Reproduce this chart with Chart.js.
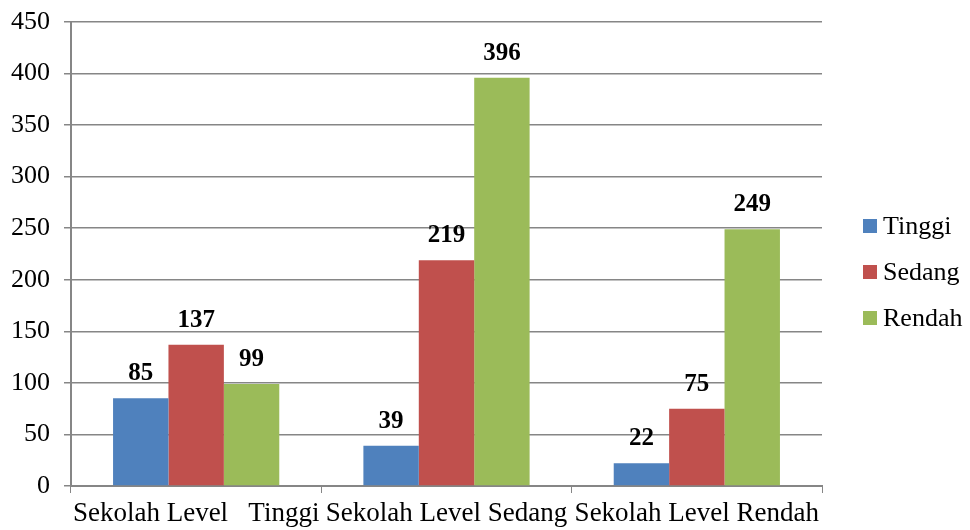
<!DOCTYPE html>
<html>
<head>
<meta charset="utf-8">
<script src="https://cdn.jsdelivr.net/npm/chart.js@4.4.1/dist/chart.umd.min.js"></script>
<style>
  html, body { margin: 0; padding: 0; background: #fff; }
  #wrap { width: 970px; height: 530px; }
</style>
</head>
<body>
<div id="wrap"><canvas id="chart" width="970" height="530"></canvas></div>
<script>
// Data
const categories = ['Sekolah Level   Tinggi', 'Sekolah Level Sedang', 'Sekolah Level Rendah'];
const tinggi = [85, 39, 22];
const sedang = [137, 219, 75];
const rendah = [99, 396, 249];

const FONT = "'Liberation Serif', 'Times New Roman', serif";
const GRID = '#868686';

// labels above bars
const valueLabels = {
  id: 'valueLabels',
  afterDatasetsDraw(chart) {
    const ctx = chart.ctx;
    ctx.save();
    ctx.font = 'bold 25px ' + FONT;
    ctx.fillStyle = '#000';
    ctx.textAlign = 'center';
    ctx.textBaseline = 'alphabetic';
    chart.data.datasets.forEach((ds, i) => {
      chart.getDatasetMeta(i).data.forEach((bar, j) => {
        ctx.fillText(ds.data[j], bar.x, bar.y - 18);
      });
    });
    ctx.restore();
  }
};

// legend on the right, small gap between box and text
const sideLegend = {
  id: 'sideLegend',
  afterDraw(chart) {
    const ctx = chart.ctx;
    const area = chart.chartArea;
    const n = chart.data.datasets.length;
    const step = 46;
    const midY = (area.top + area.bottom) / 2 + 18;
    const x = area.right + 41;
    ctx.save();
    ctx.font = '26px ' + FONT;
    ctx.textBaseline = 'middle';
    ctx.textAlign = 'left';
    chart.data.datasets.forEach((ds, i) => {
      const y = midY + (i - (n - 1) / 2) * step;
      ctx.fillStyle = ds.backgroundColor;
      ctx.fillRect(x, y - 7, 14, 14);
      ctx.fillStyle = '#000';
      ctx.fillText(ds.label, x + 20, y + 1);
    });
    ctx.restore();
  }
};

new Chart(document.getElementById('chart'), {
  type: 'bar',
  data: {
    labels: categories,
    datasets: [
      { label: 'Tinggi', data: tinggi, backgroundColor: '#4F81BD' },
      { label: 'Sedang', data: sedang, backgroundColor: '#C0504D' },
      { label: 'Rendah', data: rendah, backgroundColor: '#9BBB59' }
    ]
  },
  options: {
    responsive: false,
    animation: false,
    layout: { padding: { top: 22, left: 0, right: 148, bottom: 0 } },
    datasets: { bar: { categoryPercentage: 0.664, barPercentage: 1 } },
    plugins: {
      legend: { display: false },
      tooltip: { enabled: false }
    },
    scales: {
      x: {
        grid: { drawOnChartArea: false, drawTicks: true, tickLength: 7, color: GRID, offset: true },
        border: { color: GRID, width: 2 },
        ticks: { color: '#000', font: { family: FONT, size: 27 }, padding: 5, maxRotation: 0 },
        afterFit: s => { s.height = 44; s.paddingLeft = 0; s.paddingRight = 0; }
      },
      y: {
        min: 0,
        max: 450,
        ticks: { stepSize: 50, color: '#000', font: { family: FONT, size: 26 }, padding: 14 },
        grid: { color: GRID, lineWidth: 1.5, tickLength: 7 },
        border: { color: GRID, width: 2 },
        afterFit: s => { s.width = 71; s.paddingTop = 0; s.paddingBottom = 0; }
      }
    }
  },
  plugins: [valueLabels, sideLegend]
});
</script>
</body>
</html>
